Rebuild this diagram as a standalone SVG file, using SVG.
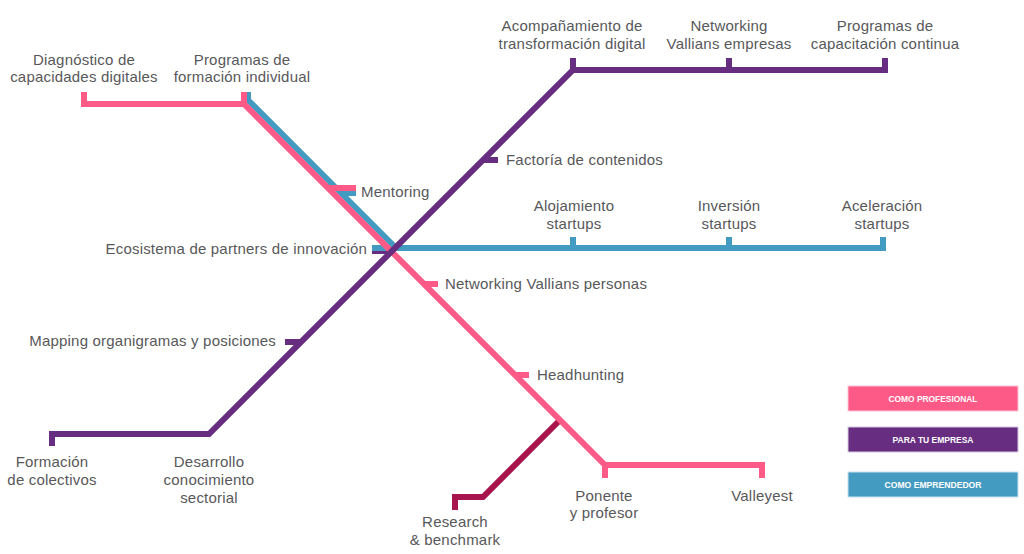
<svg xmlns="http://www.w3.org/2000/svg" width="1024" height="554" viewBox="0 0 1024 554">
<style>
.ln{fill:none;stroke-width:6;stroke-linecap:butt;stroke-linejoin:miter}
.pk{stroke:#fe5a88}.pu{stroke:#662d80}.bl{stroke:#449bc1}.cr{stroke:#a8144d}
.t{font-family:"Liberation Sans",Arial,sans-serif;font-size:15px;fill:#58585a;letter-spacing:0.2px}
.m{text-anchor:middle}.e{text-anchor:end}
.lg{font-family:"Liberation Sans",Arial,sans-serif;font-size:9.5px;font-weight:bold;fill:#fff;text-anchor:middle}
</style>
<rect width="1024" height="554" fill="#fff"/>
<g id="connectors">
<path class="ln cr" d="M560,420 L483,497 H455 V510"/>
<path class="ln pu" d="M372,251 H392"/>
<path class="ln bl" d="M248,92 V100 L396,248"/>
<path class="ln bl" d="M372,248 H883 V237 M573,248 V237 M729,248 V237"/>
<path class="ln bl" d="M341,193 H356"/>
<path class="ln pk" d="M84,92 V104 H244 L605,465 H762 V478 M244,92 V104 M605,465 V478"/>
<path class="ln pk" d="M328,188 H356 M424,284 H438 M515,375 H529"/>
<path class="ln pu" d="M52,446 V434 H209 L573,70 H885 V58 M573,70 V58 M729,70 V58"/>
<path class="ln pu" d="M483,160 H498 M285,342 H301"/>
</g>
<g id="n-diagnostico"><text class="t m" x="84" y="65">Diagnóstico de</text><text class="t m" x="84" y="82">capacidades digitales</text></g>
<g id="n-programas-formacion"><text class="t m" x="242" y="65">Programas de</text><text class="t m" x="242" y="82">formación individual</text></g>
<g id="n-acompanamiento"><text class="t m" x="572" y="31">Acompañamiento de</text><text class="t m" x="572" y="49">transformación digital</text></g>
<g id="n-networking-empresas"><text class="t m" x="729" y="31">Networking</text><text class="t m" x="729" y="49">Vallians empresas</text></g>
<g id="n-programas-capacitacion"><text class="t m" x="885" y="31">Programas de</text><text class="t m" x="885" y="49">capacitación continua</text></g>
<g id="n-factoria"><text class="t" x="506" y="165">Factoría de contenidos</text></g>
<g id="n-mentoring"><text class="t" x="361" y="197">Mentoring</text></g>
<g id="n-ecosistema"><text class="t e" x="367" y="254">Ecosistema de partners de innovación</text></g>
<g id="n-alojamiento"><text class="t m" x="574" y="211">Alojamiento</text><text class="t m" x="574" y="229">startups</text></g>
<g id="n-inversion"><text class="t m" x="729" y="211">Inversión</text><text class="t m" x="729" y="229">startups</text></g>
<g id="n-aceleracion"><text class="t m" x="882" y="211">Aceleración</text><text class="t m" x="882" y="229">startups</text></g>
<g id="n-networking-personas"><text class="t" x="445" y="289">Networking Vallians personas</text></g>
<g id="n-mapping"><text class="t e" x="276" y="346">Mapping organigramas y posiciones</text></g>
<g id="n-headhunting"><text class="t" x="537" y="380">Headhunting</text></g>
<g id="n-formacion-colectivos"><text class="t m" x="52" y="467">Formación</text><text class="t m" x="52" y="485">de colectivos</text></g>
<g id="n-desarrollo"><text class="t m" x="209" y="467">Desarrollo</text><text class="t m" x="209" y="485">conocimiento</text><text class="t m" x="209" y="503">sectorial</text></g>
<g id="n-ponente"><text class="t m" x="604" y="501">Ponente</text><text class="t m" x="604" y="518">y profesor</text></g>
<g id="n-valleyest"><text class="t m" x="762" y="501">Valleyest</text></g>
<g id="n-research"><text class="t m" x="455" y="527">Research</text><text class="t m" x="455" y="545">&amp; benchmark</text></g>
<g id="legend-profesional"><rect x="848" y="386" width="170" height="25" fill="#fe5a88" stroke="#ffc4d4" stroke-width="1"/><text class="lg" x="933" y="402" textLength="89" lengthAdjust="spacingAndGlyphs">COMO PROFESIONAL</text></g>
<g id="legend-empresa"><rect x="848" y="427" width="170" height="25" fill="#662d80" stroke="#d6c7e0" stroke-width="1"/><text class="lg" x="933" y="443" textLength="81" lengthAdjust="spacingAndGlyphs">PARA TU EMPRESA</text></g>
<g id="legend-emprendedor"><rect x="848" y="472" width="170" height="25" fill="#449bc1" stroke="#c6e1ec" stroke-width="1"/><text class="lg" x="933" y="488" textLength="97" lengthAdjust="spacingAndGlyphs">COMO EMPRENDEDOR</text></g>
</svg>
